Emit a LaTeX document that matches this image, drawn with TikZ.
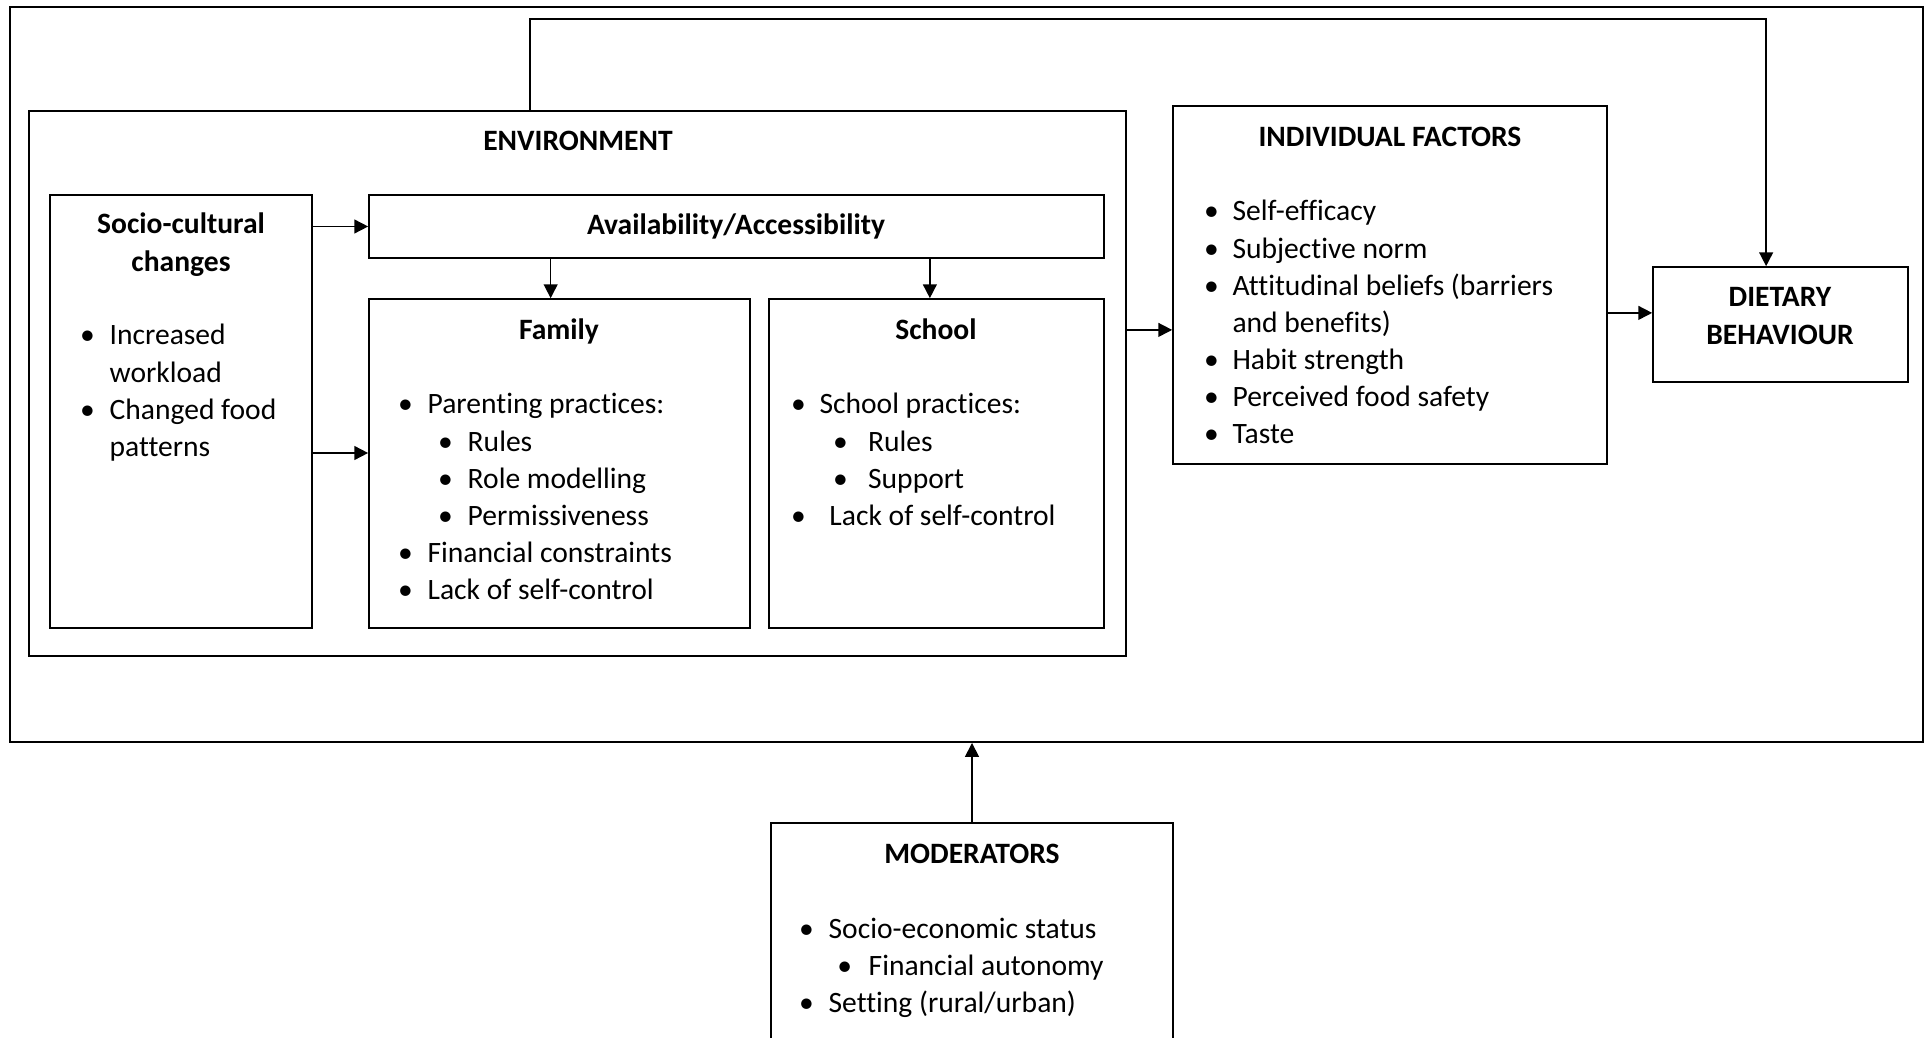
\documentclass[tikz,border=0pt]{standalone}
\usepackage{fontspec}
\setmainfont{Carlito}[Ligatures=NoCommon]
\usetikzlibrary{arrows.meta}
\usetikzlibrary{fit}

\newcommand{\itm}[2][8pt]{\makebox[0pt]{\textbullet}\hspace*{#1}#2}
\newcommand{\cnt}[2][8pt]{\hspace*{#1}#2}

\begin{document}
\begin{tikzpicture}[x=0.362pt,y=-0.362pt,
        >={Triangle[length=5pt,width=5pt]},
        box/.style={draw,line width=0.6pt,inner sep=0pt},
        head/.style={font=\fontsize{10.7}{13.4}\selectfont\bfseries,inner sep=0pt,anchor=base},
        list/.style={font=\fontsize{10.7}{13.4}\selectfont,inner sep=0pt,anchor=base west},
        link/.style={->,line width=0.6pt}]
        \useasboundingbox (0,0) rectangle (1927,1038);
        \clip (0,0) rectangle (1927,1038);
        % boxes
        \node[box,line width=0.7pt,fit={(10,7) (1923,742)}] (frame) {};
        \node[box,fit={(29,111) (1126,656)}] (env) {};
        \node[box,fit={(50,195) (312,628)}] (socio) {};
        \node[box,fit={(369,195) (1104,258)}] (avail) {};
        \node[box,fit={(369,299) (750,628)}] (fam) {};
        \node[box,fit={(769,299) (1104,628)}] (school) {};
        \node[box,fit={(1173,106) (1607,464)}] (indiv) {};
        \node[box,fit={(1653,267) (1908,382)}] (diet) {};
        \node[box,fit={(771,823) (1173,1060)}] (mod) {};
        % titles
        \node[head] (envtitle) at (578,151) {ENVIRONMENT};
        \node[head] (sociotitle) at (181,234) {\begin{tabular}[t]{@{}c@{}}Socio-cultural\\changes\end{tabular}};
        \node[head] (availtitle) at (736,235) {Availability/Accessibility};
        \node[head] (famtitle) at (559,340) {Family};
        \node[head] (schooltitle) at (936,340) {School};
        \node[head] (indivtitle) at (1390,147) {INDIVIDUAL FACTORS};
        \node[head] (diettitle) at (1780,307) {\begin{tabular}[t]{@{}c@{}}DIETARY\\BEHAVIOUR\end{tabular}};
        \node[head] (modtitle) at (972,863) {MODERATORS};
        % lists
        \node[list] (sociolist) at (87,345) {\begin{tabular}[t]{@{}l@{}}
            \itm{Increased}\\ \cnt{workload}\\ \itm{Changed food}\\ \cnt{patterns}
        \end{tabular}};
        \node[list] (famlist) at (405,414) {\begin{tabular}[t]{@{}l@{}}
            \itm{Parenting practices:}\\
            \hspace*{14.5pt}\itm{Rules}\\
            \hspace*{14.5pt}\itm{Role modelling}\\
            \hspace*{14.5pt}\itm{Permissiveness}\\
            \itm{Financial constraints}\\
            \itm{Lack of self-control}
        \end{tabular}};
        \node[list] (schoollist) at (798,414) {\begin{tabular}[t]{@{}l@{}}
            \itm[7.6pt]{School practices:}\\
            \hspace*{15.2pt}\itm[10pt]{Rules}\\
            \hspace*{15.2pt}\itm[10pt]{Support}\\
            \itm[11.2pt]{Lack of self-control}
        \end{tabular}};
        \node[list] (indivlist) at (1211,221) {\begin{tabular}[t]{@{}l@{}}
            \itm[7.6pt]{Self-efficacy}\\
            \itm[7.6pt]{Subjective norm}\\
            \itm[7.6pt]{Attitudinal beliefs (barriers}\\
            \cnt[7.6pt]{and benefits)}\\
            \itm[7.6pt]{Habit strength}\\
            \itm[7.6pt]{Perceived food safety}\\
            \itm[7.6pt]{Taste}
        \end{tabular}};
        \node[list] (modlist) at (806,938) {\begin{tabular}[t]{@{}l@{}}
            \itm{Socio-economic status}\\
            \hspace*{13.8pt}\itm[8.7pt]{Financial autonomy}\\
            \itm{Setting (rural/urban)}
        \end{tabular}};
        % connectors
        \draw[link] (socio.east |- avail.west) -- (avail.west);
        \draw[link] ([yshift=3.8pt]fam.west -| socio.east) -- ([yshift=3.8pt]fam.west);
        \draw[link] ([xshift=-3.2pt]fam.north |- avail.south) -- ([xshift=-3.2pt]fam.north);
        \draw[link] ([xshift=-2.4pt]school.north |- avail.south) -- ([xshift=-2.4pt]school.north);
        \draw[link] ([yshift=19.4pt]env.east) -- ([yshift=19.4pt]env.east -| indiv.west);
        \draw[link] ([yshift=4.2pt]diet.west -| indiv.east) -- ([yshift=4.2pt]diet.west);
        \draw[link] ([xshift=-17.2pt]env.north) -- ++(0,-91) -| ([xshift=-5.2pt]diet.north);
        \draw[link] (mod.north) -- (mod.north |- frame.south);
    \end{tikzpicture}
\end{document}
